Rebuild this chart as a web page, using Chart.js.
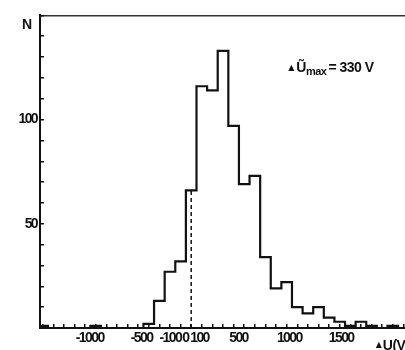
<!DOCTYPE html>
<html><head><meta charset="utf-8">
<script src="https://cdn.jsdelivr.net/npm/chart.js@4.4.1/dist/chart.umd.min.js"></script>
<style>html,body{margin:0;padding:0;background:#fff;overflow:hidden;width:405px;height:350px}canvas{display:block}</style>
</head><body>
<canvas id="c" width="414" height="350"></canvas>
<script>
// ---- data ----
const binCenters = [-1400,-1300,-1200,-1100,-1000,-900,-800,-700,-600,-500,-400,-300,-200,-100,0,100,200,300,400,500,600,700,800,900,1000,1100,1200,1300,1400,1500,1600,1700,1800,1900,2000];
const counts     = [1,0,0,0,0,1,0,0,0,0,2,13,27,32,66,116,114,133,97,69,73,34,19,22,10,7,10,5,3,1,3,1,0,1,0];
const binWidth = 100;
const xMinorTicks = [-1400,-1300,-1200,-1100,-1000,-900,-800,-700,-600,-500,-400,-300,-200,-100,0,100,200,300,400,500,600,700,800,900,1000,1100,1200,1300,1400,1500,1600,1700,1800,1900,2000];
const xTickLabels = [-1000,-500,-100,0,100,500,1000,1500];
const yTickLabels = [50,100];
const markerU = 0;            // dashed marker position
const peakText = ['Ũ','max','= 330 V'];
const yAxisName = 'N';
const xAxisName = 'U(V)';

// styling
const SANS = "'Liberation Sans',Arial,sans-serif";
const INK = '#111';
const TICK_SIZE = 14;
const TICK_SPACING = -1.6;     // px letter spacing for tick labels
const SPACE_W = 0.278*TICK_SIZE + TICK_SPACING;
// hand-lettered label displacement in px (positive = right)
const labelShift = {'-1000':5,'-500':3,'-100':-10,'0':-6,'100':-2,'500':-6,'1000':-8,'1500':-9};
function padLabel(txt, shift){
  const n = Math.round(Math.abs(shift)*2/SPACE_W);
  const sp = ' '.repeat(n);
  return shift>0 ? sp+txt : txt+sp;
}

const histPoints = binCenters.map((c,i)=>({x:c-binWidth/2,y:counts[i]}));
histPoints.push({x:binCenters[binCenters.length-1]+binWidth/2,y:0});
const markerTop = counts[binCenters.indexOf(0)];
const dashPoints = [{x:markerU,y:0},{x:markerU,y:markerTop}];

const spacingPlugin = {
  id:'spacing',
  beforeDraw(chart){ chart.ctx.letterSpacing = TICK_SPACING + 'px'; }
};
const textPlugin = {
  id:'texts',
  afterDraw(chart){
    const ctx = chart.ctx, xs = chart.scales.x, ys = chart.scales.y;
    ctx.save();
    ctx.letterSpacing = '0px';
    ctx.fillStyle = INK;
    ctx.textBaseline = 'alphabetic';
    // N
    ctx.textAlign = 'center';
    ctx.font = 'bold 14px ' + SANS;
    ctx.fillText(yAxisName, xs.left - 13, ys.top + 14);
    // peak annotation
    ctx.textAlign = 'left';
    ctx.letterSpacing = '-0.5px';
    let x = xs.getPixelForValue(915), y = ys.getPixelForValue(123);
    ctx.font = 'bold 8px DejaVu Sans';
    ctx.fillText('▲', x, y - 2);
    x += 8;
    ctx.font = 'bold 14px ' + SANS;
    ctx.fillText(peakText[0], x, y);
    x += ctx.measureText(peakText[0]).width;
    ctx.font = 'bold 11px ' + SANS;
    ctx.fillText(peakText[1], x, y + 3);
    x += ctx.measureText(peakText[1]).width + 2;
    ctx.font = 'bold 14px ' + SANS;
    ctx.fillText(peakText[2], x, y);
    // x axis name
    x = xs.getPixelForValue(1740); y = 350;
    ctx.font = 'bold 8px DejaVu Sans';
    ctx.fillText('▲', x, y - 3);
    ctx.font = 'bold 14px ' + SANS;
    ctx.fillText(xAxisName, x + 7, y);
    ctx.restore();
  }
};

new Chart(document.getElementById('c'), {
  type:'scatter',
  data:{datasets:[
    {data:histPoints, showLine:true, stepped:'before', borderColor:INK, borderWidth:2.2, pointRadius:0, fill:false},
    {data:dashPoints, showLine:true, borderColor:INK, borderWidth:1.5, borderDash:[4,3], pointRadius:0}
  ]},
  plugins:[spacingPlugin, textPlugin],
  options:{
    responsive:false, animation:false, devicePixelRatio:1,
    layout:{padding:{top:8,left:0,right:0,bottom:0}},
    plugins:{legend:{display:false}, tooltip:{enabled:false}},
    scales:{
      x:{type:'linear', position:'bottom', min:-1425, max:2100,
        afterBuildTicks:s=>{ s.ticks = xMinorTicks.map(v=>({value:v})); },
        afterFit:s=>{ s.height = 22; },
        border:{display:true,color:INK,width:2},
        grid:{drawOnChartArea:false, drawTicks:true, tickLength:-4, color:INK, lineWidth:1.5},
        ticks:{autoSkip:false, maxRotation:0, minRotation:0, padding:6, color:INK,
          font:{family:SANS, size:TICK_SIZE, weight:'bold'},
          callback:v=>{
            if(!xTickLabels.includes(v)) return '';
            return padLabel(String(v), labelShift[String(v)] || 0);
          }}
      },
      y:{type:'linear', min:0, max:150,
        afterFit:s=>{ s.width = 40; },
        border:{display:true,color:INK,width:2},
        grid:{drawOnChartArea:true, drawTicks:true, tickLength:-4,
          color:c=> (c.tick && c.tick.value===150) ? '#333' : 'rgba(0,0,0,0)',
          tickColor:INK, lineWidth:1.5},
        ticks:{stepSize:10, padding:7, color:INK,
          font:{family:SANS, size:TICK_SIZE, weight:'bold'},
          callback:v=> yTickLabels.includes(v) ? String(v) : ''}
      }
    }
  }
});
</script>
</body></html>
